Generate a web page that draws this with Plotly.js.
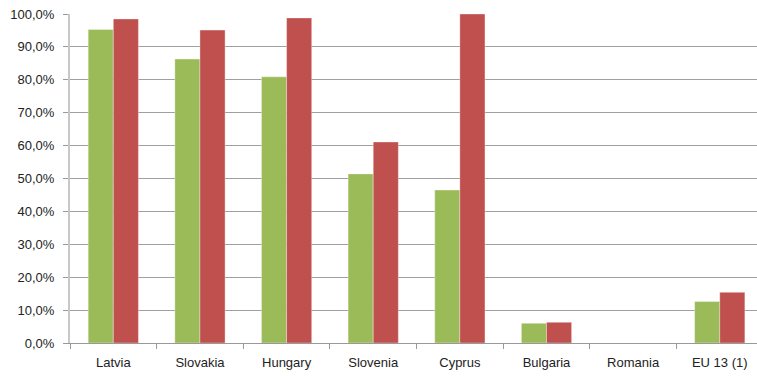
<!DOCTYPE html>
<html>
<head>
<meta charset="utf-8">
<script src="https://cdn.plot.ly/plotly-3.0.1.min.js"></script>
<style>html,body{margin:0;padding:0;background:#fff;}#chart{width:757px;height:376px;}</style>
</head>
<body>
<div id="chart"></div>
<script>
// Countries on the horizontal axis
const categories = ["Latvia", "Slovakia", "Hungary", "Slovenia", "Cyprus", "Bulgaria", "Romania", "EU 13 (1)"];
// Two series, in percent
const seriesGreen = [95.3, 86.3, 80.9, 51.4, 46.5, 6.0, 0, 12.6];
const seriesRed = [98.5, 95.1, 98.8, 61.1, 100.0, 6.3, 0, 15.4];
const yTicks = [0, 10, 20, 30, 40, 50, 60, 70, 80, 90, 100];
const yTickText = yTicks.map(v => v.toFixed(1).replace(".", ",") + "%");

const font = {family: "Liberation Sans, Arial, sans-serif", size: 13, color: "#222"};

const traces = [
  {type: "bar", x: categories, y: seriesGreen, marker: {color: "#9BBB59", line: {color: "rgba(255,255,255,0.35)", width: 1}}, hoverinfo: "none"},
  {type: "bar", x: categories, y: seriesRed, marker: {color: "#C0504D", line: {color: "rgba(255,255,255,0.35)", width: 1}}, hoverinfo: "none"}
];

const layout = {
  width: 757, height: 376,
  margin: {l: 70, r: 0, t: 14, b: 33, pad: 0},
  paper_bgcolor: "#fff", plot_bgcolor: "#fff",
  showlegend: false,
  barmode: "group", bargap: 0.42, bargroupgap: 0,
  font: font,
  xaxis: {
    type: "category",
    range: [-0.5, 7.43],
    tickson: "boundaries",
    ticks: "outside", ticklen: 5, tickcolor: "#999", tickwidth: 1,
    ticklabelstandoff: 7,
    showgrid: false,
    showline: true, linecolor: "#999", linewidth: 1,
    tickfont: font,
    fixedrange: true
  },
  yaxis: {
    range: [0, 100],
    tickmode: "array", tickvals: yTicks, ticktext: yTickText,
    ticks: "outside", ticklen: 5, tickcolor: "#999",
    ticklabelstandoff: 6,
    showgrid: true, gridcolor: "#a0a0a0", gridwidth: 1,
    zeroline: false,
    showline: true, linecolor: "#c8c8c8", linewidth: 2,
    tickfont: font,
    fixedrange: true
  }
};

Plotly.newPlot("chart", traces, layout, {staticPlot: true, displayModeBar: false});
</script>
</body>
</html>
